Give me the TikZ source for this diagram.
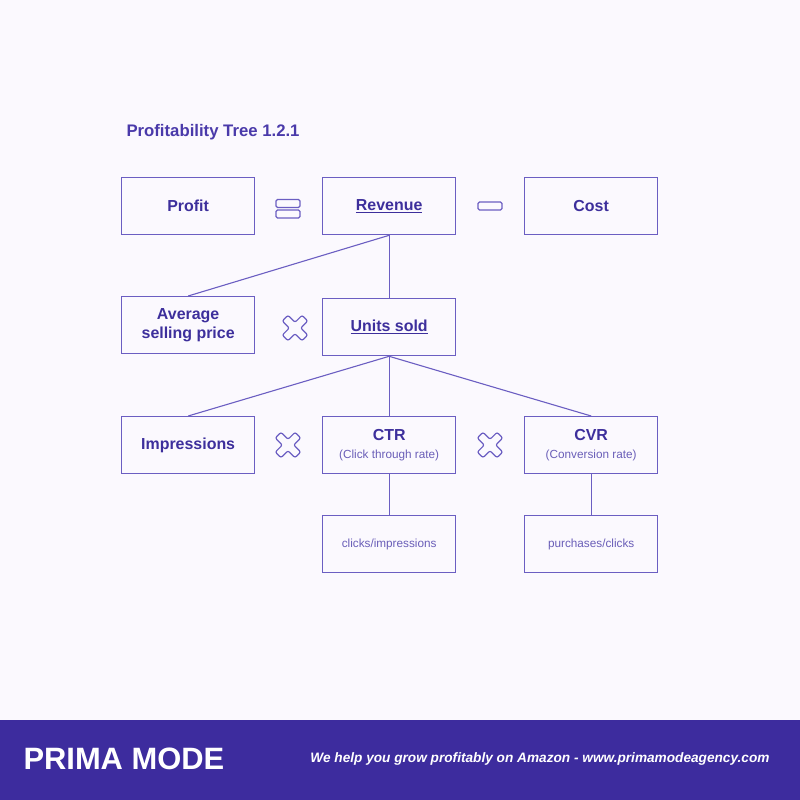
\documentclass[tikz,border=0pt]{standalone}
\usepackage{fontspec}
\setmainfont{Liberation Sans}
\begin{document}
\begin{tikzpicture}[x=1bp,y=-1bp,
  box/.style={draw=boxline,line width=1.3bp,minimum width=133bp,minimum height=57bp,inner sep=0pt,anchor=north west,text=txt,align=center,font=\fontsize{16}{19.5}\selectfont\bfseries},
  conn/.style={draw=boxline,line width=1.1bp},
  icon/.style={draw=boxline,line width=1.2bp,rounded corners=1.5bp},
  small/.style={font=\fontsize{11.8}{14}\selectfont,text=subtxt}]
\definecolor{bg}{HTML}{FBF9FE}
\definecolor{boxline}{HTML}{6B5EC2}
\definecolor{txt}{HTML}{3D2F9C}
\definecolor{subtxt}{HTML}{6A5EB8}
\definecolor{band}{HTML}{3D2C9E}
\definecolor{titlec}{HTML}{4A3AAA}
\fill[bg] (0,0) rectangle (800,800);
\useasboundingbox (0,0) rectangle (800,800);
\fill[band] (0,720) rectangle (800,800);
% title
\node[anchor=west,text=titlec,font=\fontsize{16.8}{18}\selectfont\bfseries] (title) at (123,132) {Profitability Tree 1.2.1};
% boxes
\node[box] (profit) at (121,177) {Profit};
\node[box] (revenue) at (322,177) {\underline{Revenue}};
\node[box] (cost) at (524,177) {Cost};
\node[box] (asp) at (121,296) {Average\\selling price};
\node[box] (units) at (322,298) {\underline{Units sold}};
\node[box] (impr) at (121,416) {Impressions};
\node[box] (ctr) at (322,416) {CTR\\[-1bp]{\fontsize{11.8}{14}\selectfont\mdseries\color{subtxt}(Click through rate)}};
\node[box] (cvr) at (524,416) {CVR\\[-1bp]{\fontsize{11.8}{14}\selectfont\mdseries\color{subtxt}(Conversion rate)}};
\node[box,small] (clicks) at (322,515) {clicks/impressions};
\node[box,small] (purch) at (524,515) {purchases/clicks};
% connectors
\draw[conn] (revenue.south) -- (asp.north);
\draw[conn] (revenue.south) -- (units.north);
\draw[conn] (units.south) -- (impr.north);
\draw[conn] (units.south) -- (ctr.north);
\draw[conn] (units.south) -- (cvr.north);
\draw[conn] (ctr.south) -- (clicks.north);
\draw[conn] (cvr.south) -- (purch.north);
% equals icon
\draw[icon] (276,199.5) rectangle (300,207.5);
\draw[icon] (276,210) rectangle (300,218);
% minus icon
\draw[icon] (478,202) rectangle (502,210);
% cross icons
\foreach \cx/\cy in {295/328, 288/445, 490/445}{
  \draw[icon,rounded corners=2bp,shift={(\cx,\cy)},rotate=45]
    (-4,-14) -- (4,-14) -- (4,-4) -- (14,-4) -- (14,4) -- (4,4) -- (4,14) -- (-4,14) -- (-4,4) -- (-14,4) -- (-14,-4) -- (-4,-4) -- cycle;
}
% footer
\node[anchor=west,text=white,font=\fontsize{31}{33}\selectfont\bfseries] (brand) at (20,759) {PRIMA MODE};
\node[anchor=east,text=white,font=\fontsize{13.7}{16}\selectfont\bfseries\itshape] (tag) at (773,759) {We help you grow profitably on Amazon - www.primamodeagency.com};
\end{tikzpicture}
\end{document}
